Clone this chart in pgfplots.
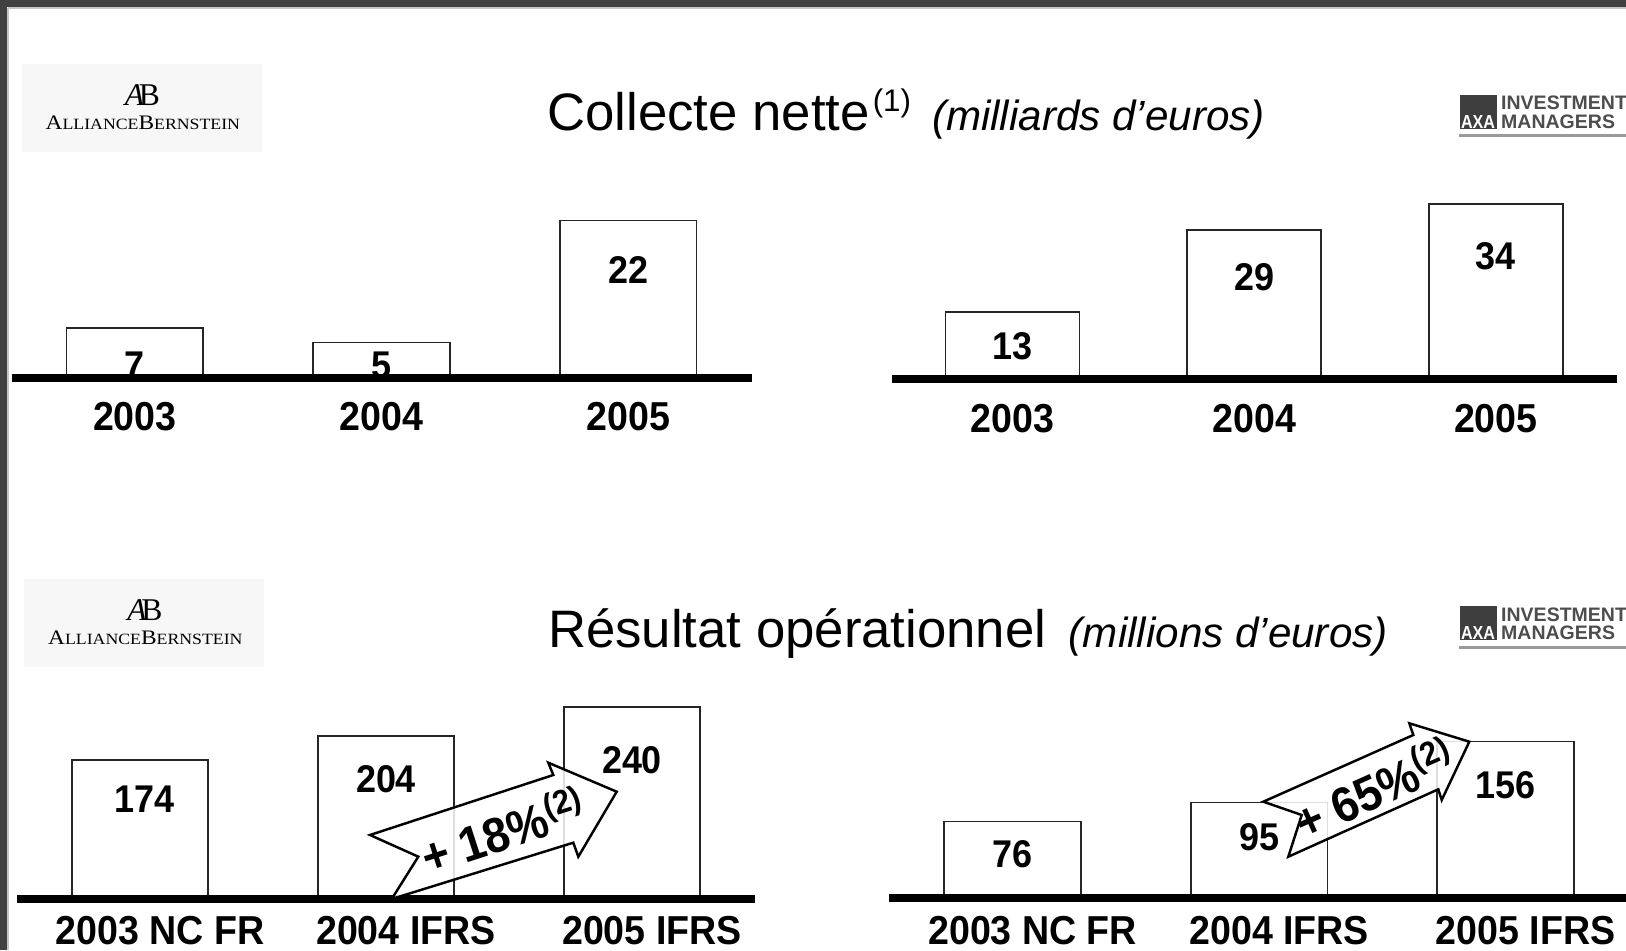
\documentclass[border=0pt]{standalone}
\usepackage{pgfplots}
\pgfplotsset{compat=1.18}
\usepackage{fontspec}
\setmainfont{Liberation Sans}
\newfontfamily\serif{Liberation Serif}
\newfontfamily\cond[FakeStretch=0.93]{Liberation Sans}
\definecolor{frame}{HTML}{404040}
\definecolor{abbg}{HTML}{F7F7F7}
\definecolor{axagray}{HTML}{4D4D4D}
\definecolor{axasq}{HTML}{3E3E3E}
\definecolor{axaline}{HTML}{9A9A9A}

\pgfplotsset{
  slide/.style={
    scale only axis,
    ybar, bar width=0.555,
    xmin=-0.5, xmax=2.5, ymin=0,
    axis x line=bottom, axis y line=none,
    x axis line style={-, line width=0.08cm, black},
    xtick={0,1,2}, major tick length=0, ytick=\empty,
    xticklabel style={font=\cond\bfseries\fontsize{11.5}{11.5}\selectfont, anchor=center, text=black},
    axis on top, clip=false,
    every axis plot post/.append style={fill=white, draw=black!85, line width=0.45pt},
  },
}
\tikzset{vlab/.style={font=\cond\bfseries\fontsize{11}{11}\selectfont, anchor=center, inner sep=0pt}}

\newcommand{\ABlogo}{%
  \fill[abbg] (0.217,8.86) rectangle (2.617,7.983);
  \node at (1.425,8.545) {\serif\fontsize{9}{9}\selectfont\itshape A\kern-0.17em\upshape B};
  \node[anchor=base west, inner sep=0pt] at (0.45,8.207)
    {\resizebox{1.943cm}{0.136cm}{\serif\fontsize{10}{10}\selectfont A\fontsize{7.6}{7.6}\selectfont LLIANCE\fontsize{10}{10}\selectfont B\fontsize{7.6}{7.6}\selectfont ERNSTEIN}};
}
\newcommand{\AXAlogo}{%
  \fill[axasq] (14.595,8.55) rectangle (14.965,8.21);
  \node[text=white, font=\cond\bfseries\fontsize{5.2}{5.2}\selectfont, inner sep=0pt] at (14.78,8.28) {\resizebox{0.34cm}{0.13cm}{AXA}};
  \node[anchor=base west, inner sep=0pt, text=axagray, font=\bfseries\fontsize{5.55}{5.55}\selectfont] at (15.005,8.40) {INVESTMENT};
  \node[anchor=base west, inner sep=0pt, text=axagray, font=\bfseries\fontsize{5.55}{5.55}\selectfont] at (15.005,8.215) {MANAGERS};
  \draw[axaline, line width=0.9pt] (14.59,8.142) -- (16.3,8.142);
}

\begin{document}
\begin{tikzpicture}
\path[use as bounding box] (0,0) rectangle (16.26,9.5);
\clip (0,0) rectangle (16.26,9.5);
\fill[white] (0,0) rectangle (16.26,9.5);
\fill[frame] (0,9.425) rectangle (16.26,9.5);
\fill[frame] (0,0) rectangle (0.075,9.5);
\draw[gray!45, line width=0.4pt] (0.08,9.418) -- (16.26,9.418);
\draw[gray!45, line width=0.4pt] (0.082,0) -- (0.082,9.418);

% logos
\ABlogo
\begin{scope}[shift={(0.025,-5.15)}]\ABlogo\end{scope}
\AXAlogo
\begin{scope}[shift={(0,-5.115)}]\AXAlogo\end{scope}

% titles
\node[anchor=base west, inner sep=0pt] at (5.467,8.195)
  {\fontsize{15}{15}\selectfont Collecte nette\kern0.03cm\raisebox{0.185cm}{\fontsize{8.9}{8.9}\selectfont(1)}\hspace{0.21cm}{\fontsize{12}{12}\selectfont\itshape (milliards d’euros)}};
\node[anchor=base west, inner sep=0pt] at (5.475,3.02)
  {\fontsize{15}{15}\selectfont Résultat opérationnel\hspace{0.225cm}{\fontsize{12}{12}\selectfont\itshape (millions d’euros)}};

% top-left: Collecte nette AllianceBernstein
\begin{axis}[slide, anchor=south west, at={(0.115cm,5.715cm)}, width=7.40cm, height=1.7975cm, ymax=25,
  xticklabels={2003,2004,2005}, xticklabel style={yshift=-0.385cm}]
  \addplot coordinates {(0,7) (1,5) (2,22)};
  \node[vlab] at (axis cs:0,1.88) {7};
  \node[vlab] at (axis cs:1,1.88) {5};
  \node[vlab] at (axis cs:2,15.1) {22};
\end{axis}

% top-right: Collecte nette AXA IM
\begin{axis}[slide, anchor=south west, at={(8.918cm,5.712cm)}, width=7.248cm, height=1.848cm, ymax=36,
  xticklabels={2003,2004,2005}, xticklabel style={yshift=-0.40cm}]
  \addplot coordinates {(0,13) (1,29) (2,34)};
  \node[vlab] at (axis cs:0,6.39) {13};
  \node[vlab] at (axis cs:1,19.8) {29};
  \node[vlab] at (axis cs:2,23.9) {34};
\end{axis}

% bottom-left: Resultat operationnel AllianceBernstein
\begin{axis}[slide, anchor=south west, at={(0.17cm,0.515cm)}, width=7.38cm, height=2.072cm, ymax=260,
  xticklabels={2003 NC FR,2004 IFRS,2005 IFRS}, xticklabel style={yshift=-0.325cm, xshift=0.2cm}]
  \addplot coordinates {(0,174) (1,204) (2,240)};
  \node[vlab] at (axis cs:0.02,124.2) {174};
  \node[vlab] at (axis cs:1,150.2) {204};
  \node[vlab] at (axis cs:2,173.8) {240};
\end{axis}

% bottom-right: Resultat operationnel AXA IM
\begin{axis}[slide, anchor=south west, at={(8.894cm,0.525cm)}, width=7.395cm, height=1.70cm, ymax=170,
  xticklabels={2003 NC FR,2004 IFRS,2005 IFRS}, xticklabel style={yshift=-0.335cm, xshift=0.2cm}]
  \addplot coordinates {(0,76) (1,95) (2,156)};
  \node[vlab] at (axis cs:0,43) {76};
  \node[vlab] at (axis cs:1,60.6) {95};
  \node[vlab] at (axis cs:2,112.5) {156};
\end{axis}

% growth arrows
\draw[fill=white, fill opacity=0.85, draw=black, line width=0.7pt, line join=miter]
  (3.70,1.15) -- (4.183,0.933) -- (3.917,0.51) -- (5.733,1.073) -- (5.783,0.933)
  -- (6.167,1.583) -- (5.483,1.873) -- (5.533,1.75) -- cycle;
\node[rotate=18, inner sep=0pt, font=\cond\bfseries\fontsize{14}{14}\selectfont] at (5.02,1.20)
  {+ 18\%\raisebox{5pt}{\fontsize{9.5}{9.5}\selectfont(2)}};

\draw[fill=white, fill opacity=0.85, draw=black, line width=0.7pt, line join=miter]
  (12.633,1.483) -- (13.017,1.35) -- (12.883,0.933) -- (14.383,1.607) -- (14.417,1.50)
  -- (14.693,2.083) -- (14.093,2.267) -- (14.133,2.15) -- cycle;
\node[rotate=24, inner sep=0pt, font=\cond\bfseries\fontsize{14}{14}\selectfont] at (13.73,1.62)
  {+ 65\%\raisebox{5pt}{\fontsize{9.5}{9.5}\selectfont(2)}};
\end{tikzpicture}
\end{document}
